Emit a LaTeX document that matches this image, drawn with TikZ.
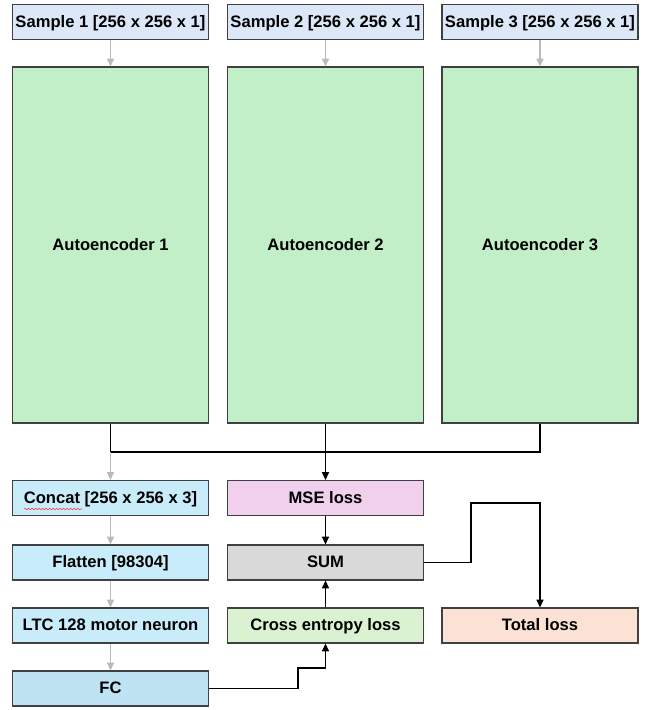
\documentclass[tikz,border=0pt]{standalone}
\usepackage{fontspec}
\setmainfont{Liberation Sans}
\usetikzlibrary{arrows.meta,decorations.pathmorphing}

\definecolor{samplefill}{HTML}{DCE8F8}
\definecolor{encfill}{HTML}{C2EFC8}
\definecolor{netfill}{HTML}{C9ECFB}
\definecolor{fcfill}{HTML}{BFE3F3}
\definecolor{msefill}{HTML}{F1D0EE}
\definecolor{sumfill}{HTML}{D9D9D9}
\definecolor{crossfill}{HTML}{DAF2D1}
\definecolor{totalfill}{HTML}{FBE2D5}

\begin{document}
\begin{tikzpicture}[font=\bfseries\fontsize{11.8}{13}\selectfont,
        >={Stealth[length=5.5pt,width=5pt,inset=0pt]},x=0.025cm,y=-0.025cm]
    \tikzset{
        box/.style={
            draw=black!75,line width=0.8pt,inner sep=0pt,
            text height=0.72em,text depth=0pt,
            minimum width=4.9cm,minimum height=0.875cm,align=center
        },
        sample/.style={box,fill=samplefill},
        enc/.style={box,fill=encfill,minimum height=8.9cm},
        net/.style={box,fill=netfill},
        grayflow/.style={->,line width=1pt,draw=black!27},
        flow/.style={->,line width=1pt},
        bus/.style={line width=1pt}
    }
    \useasboundingbox (0,0) rectangle (645,710);

    \node[sample] (s1) at (110.5,22) {Sample 1 [256 x 256 x 1]};
    \node[sample] (s2) at (325.5,22) {Sample 2 [256 x 256 x 1]};
    \node[sample] (s3) at (540,22) {Sample 3 [256 x 256 x 1]};

    \node[enc] (enc1) at (110.5,245) {Autoencoder 1};
    \node[enc] (enc2) at (325.5,245) {Autoencoder 2};
    \node[enc] (enc3) at (540,245) {Autoencoder 3};
    \draw[grayflow] (s1.south) -- (enc1.north);
    \draw[grayflow] (s2.south) -- (enc2.north);
    \draw[grayflow] (s3.south) -- (enc3.north);

    \node[net] (concat) at (110.5,498) {Concat [256 x 256 x 3]};
    \node[net] (flatten) at (110.5,562.5) {Flatten [98304]};
    \node[net] (ltc) at (110.5,625.5) {LTC 128 motor neuron};
    \node[box,fill=fcfill] (fc) at (110.5,688.5) {FC};
    \draw[grayflow] (concat.south) -- (flatten.north);
    \draw[grayflow] (flatten.south) -- (ltc.north);
    \draw[grayflow] (ltc.south) -- (fc.north);

    \node[box,fill=msefill] (mse) at (325.5,498) {MSE loss};
    \node[box,fill=sumfill] (sum) at (325.5,562.5) {SUM};
    \node[box,fill=crossfill] (cross) at (325.5,625.5) {Cross entropy loss};
    \node[box,fill=totalfill] (total) at (540,625.5) {Total loss};

    % autoencoder outputs
    \coordinate (busL) at (110.5,452);
    \coordinate (busR) at (540,452);
    \draw[bus] (enc1.south) -- (busL) -- (busR) -- (enc3.south);
    \draw[grayflow] (busL) -- (concat.north);
    \draw[flow] (enc2.south) -- (mse.north);

    % losses
    \coordinate (sumbend) at (471,503);
    \coordinate (fcbend) at (298,668);
    \draw[flow] (mse.south) -- (sum.north);
    \draw[flow] (cross.north) -- (sum.south);
    \draw[flow] (sum.east) -| (sumbend) -| (total.north);
    \draw[flow] (fc.east) -| (fcbend) -| (cross.south);

    \draw[red!80,decorate,decoration={snake,amplitude=0.5pt,segment length=2.5pt}]
        (24,509) -- (82,509);
\end{tikzpicture}
\end{document}
